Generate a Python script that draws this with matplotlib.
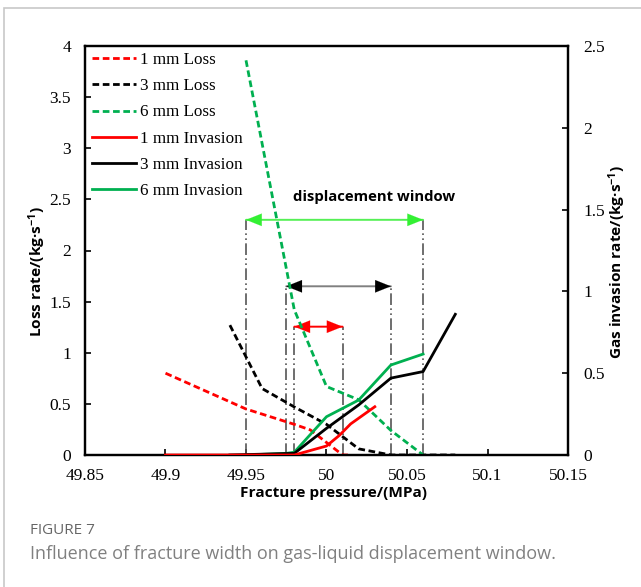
import matplotlib
matplotlib.use("Agg")
import matplotlib.pyplot as plt
from matplotlib.patches import Rectangle

# ---------------- data ----------------
loss_1mm_x = [49.90, 49.95, 49.98, 49.99, 50.01, 50.015]
loss_1mm_y = [0.80, 0.45, 0.30, 0.245, 0.0, 0.0]

loss_3mm_x = [49.94, 49.96, 49.98, 50.00, 50.02, 50.04, 50.06, 50.08]
loss_3mm_y = [1.27, 0.65, 0.47, 0.30, 0.06, 0.0, 0.0, 0.0]

loss_6mm_x = [49.95, 49.98, 50.00, 50.02, 50.04, 50.06]
loss_6mm_y = [3.86, 1.42, 0.67, 0.54, 0.24, 0.0]

inv_1mm_x = [49.90, 49.98, 50.00, 50.008, 50.015, 50.03]
inv_1mm_y = [0.0, 0.0, 0.055, 0.12, 0.19, 0.295]

inv_3mm_x = [49.94, 49.98, 50.00, 50.02, 50.04, 50.06, 50.08]
inv_3mm_y = [0.0, 0.01, 0.163, 0.306, 0.47, 0.51, 0.86]

inv_6mm_x = [49.95, 49.975, 49.98, 50.00, 50.02, 50.04, 50.06]
inv_6mm_y = [0.0, 0.01, 0.017, 0.234, 0.336, 0.55, 0.617]

# displacement windows: (start, end, height on loss axis)
win_green = (49.95, 50.06, 2.30)
win_black = (49.975, 50.04, 1.65)
win_red = (49.98, 50.01, 1.255)

x_ticks = [49.85, 49.9, 49.95, 50.0, 50.05, 50.1, 50.15]
x_tick_labels = ["49.85", "49.9", "49.95", "50", "50.05", "50.1", "50.15"]
yl_ticks = [0, 0.5, 1, 1.5, 2, 2.5, 3, 3.5, 4]
yl_tick_labels = ["0", "0.5", "1", "1.5", "2", "2.5", "3", "3.5", "4"]
yr_ticks = [0, 0.5, 1, 1.5, 2, 2.5]
yr_tick_labels = ["0", "0.5", "1", "1.5", "2", "2.5"]

# ---------------- figure ----------------
W, H = 641, 587
DPI = 100
fig = plt.figure(figsize=(W / DPI, H / DPI), dpi=DPI)
fig.patch.set_facecolor("white")

plt.rcParams['mathtext.fontset'] = 'custom'
plt.rcParams['mathtext.rm'] = 'Open Sans:bold'
plt.rcParams['mathtext.it'] = 'Open Sans:bold'
plt.rcParams['mathtext.bf'] = 'Open Sans:bold'

# card border
fig.patches.append(Rectangle((4 / W, -0.05), 1.2, 1 - 8 / H + 0.05, transform=fig.transFigure,
                             fill=False, edgecolor="#c8c8c8", linewidth=1.2))

L, R, T, B = 85, 568, 46, 455
ax = fig.add_axes([L / W, 1 - B / H, (R - L) / W, (B - T) / H])
ax2 = ax.twinx()

serif = "Liberation Serif"
tick_fs = 12.5

lw = 2.0
dsh = (2.4, 1.3)
ax.plot(loss_1mm_x, loss_1mm_y, color="#ff0000", lw=lw, dashes=dsh, label="1 mm Loss", zorder=4)
ax.plot(loss_3mm_x, loss_3mm_y, color="#000000", lw=lw, dashes=dsh, label="3 mm Loss", zorder=4)
ax.plot(loss_6mm_x, loss_6mm_y, color="#00b050", lw=lw, dashes=dsh, label="6 mm Loss", zorder=4)

l4, = ax2.plot(inv_1mm_x, inv_1mm_y, color="#ff0000", lw=lw, label="1 mm Invasion", zorder=5)
l5, = ax2.plot(inv_3mm_x, inv_3mm_y, color="#000000", lw=lw, label="3 mm Invasion", zorder=4)
l6, = ax2.plot(inv_6mm_x, inv_6mm_y, color="#00b050", lw=lw, label="6 mm Invasion", zorder=3)

# vertical dash-dot-dot lines and arrows
vstyle = (0, (7, 2, 1, 2, 1, 2))
for (x0, x1, h), col, lcol in [(win_green, "#33f033", "#55f055"),
                               (win_black, "#000000", "#808080"),
                               (win_red, "#ff0000", "#ff0000")]:
    ax.vlines([x0, x1], 0, h, colors="#555555", linestyles=[vstyle], lw=1.2, zorder=2)
    ax.annotate("", xy=(x0, h), xytext=(x1, h),
                arrowprops=dict(arrowstyle="-", color=lcol, lw=1.4,
                                shrinkA=0, shrinkB=0), zorder=3)
    for xa, xb in [(x0, x1), (x1, x0)]:
        ax.annotate("", xy=(xa, h), xytext=(xa + (xb - xa) * 0.12, h),
                    arrowprops=dict(arrowstyle="-|>,head_length=0.8,head_width=0.32",
                                    color=col, lw=0.1, shrinkA=0, shrinkB=0,
                                    mutation_scale=14), zorder=3)

ax.text(50.0295, 2.52, "displacement window", ha="center", va="center",
        fontsize=10.7, fontweight="bold", family="Open Sans")

ax.set_xlim(49.85, 50.15)
ax.set_ylim(0, 4)
ax2.set_ylim(0, 2.5)
ax.set_xticks(x_ticks)
ax.set_xticklabels(x_tick_labels, family=serif, fontsize=tick_fs)
ax.set_yticks(yl_ticks)
ax.set_yticklabels(yl_tick_labels, family=serif, fontsize=tick_fs)
ax2.set_yticks(yr_ticks)
ax2.set_yticklabels(yr_tick_labels, family=serif, fontsize=tick_fs)

ax.tick_params(axis="x", direction="in", length=4, width=1.2, pad=9, colors="black")
ax.tick_params(axis="y", direction="in", length=4, width=1.2, pad=10)
ax2.tick_params(axis="y", direction="in", length=4, width=1.2, pad=11)
for a in (ax, ax2):
    for s in a.spines.values():
        s.set_linewidth(1.6)
        s.set_color("black")

handles = ax.get_lines()[:3] + [l4, l5, l6]
leg = ax.legend(handles=handles, labels=[h.get_label() for h in handles],
                loc="upper left", bbox_to_anchor=(92 / W, 1 - 52 / H),
                bbox_transform=fig.transFigure, frameon=False,
                prop={"family": serif, "size": 12.3}, handlelength=2.6,
                handletextpad=0.2, labelspacing=0.6, borderpad=0.0,
                borderaxespad=0)
leg.set_zorder(10)

# axis labels
fig.text(333 / W, 1 - 493 / H, "Fracture pressure/(MPa)", ha="center", va="center",
         fontsize=11.1, fontweight="bold", family="Open Sans")
fig.text(37 / W, 1 - 272 / H, "Loss rate/(kg·s$^{-1}$)", ha="center", va="center",
         rotation=90, fontsize=11.1, fontweight="bold", family="Open Sans")
fig.text(617 / W, 1 - 262 / H, "Gas invasion rate/(kg·s$^{-1}$)", ha="center", va="center",
         rotation=90, fontsize=11.1, fontweight="bold", family="Open Sans")

# caption
fig.text(30 / W, 1 - 530 / H, "FIGURE 7", ha="left", va="center",
         fontsize=11, family="Open Sans", color="#666666")
fig.text(30 / W, 1 - 554 / H, "Influence of fracture width on gas-liquid displacement window.",
         ha="left", va="center", fontsize=13, family="Open Sans", color="#808080")

fig.savefig("out.png", dpi=DPI, facecolor="white")
